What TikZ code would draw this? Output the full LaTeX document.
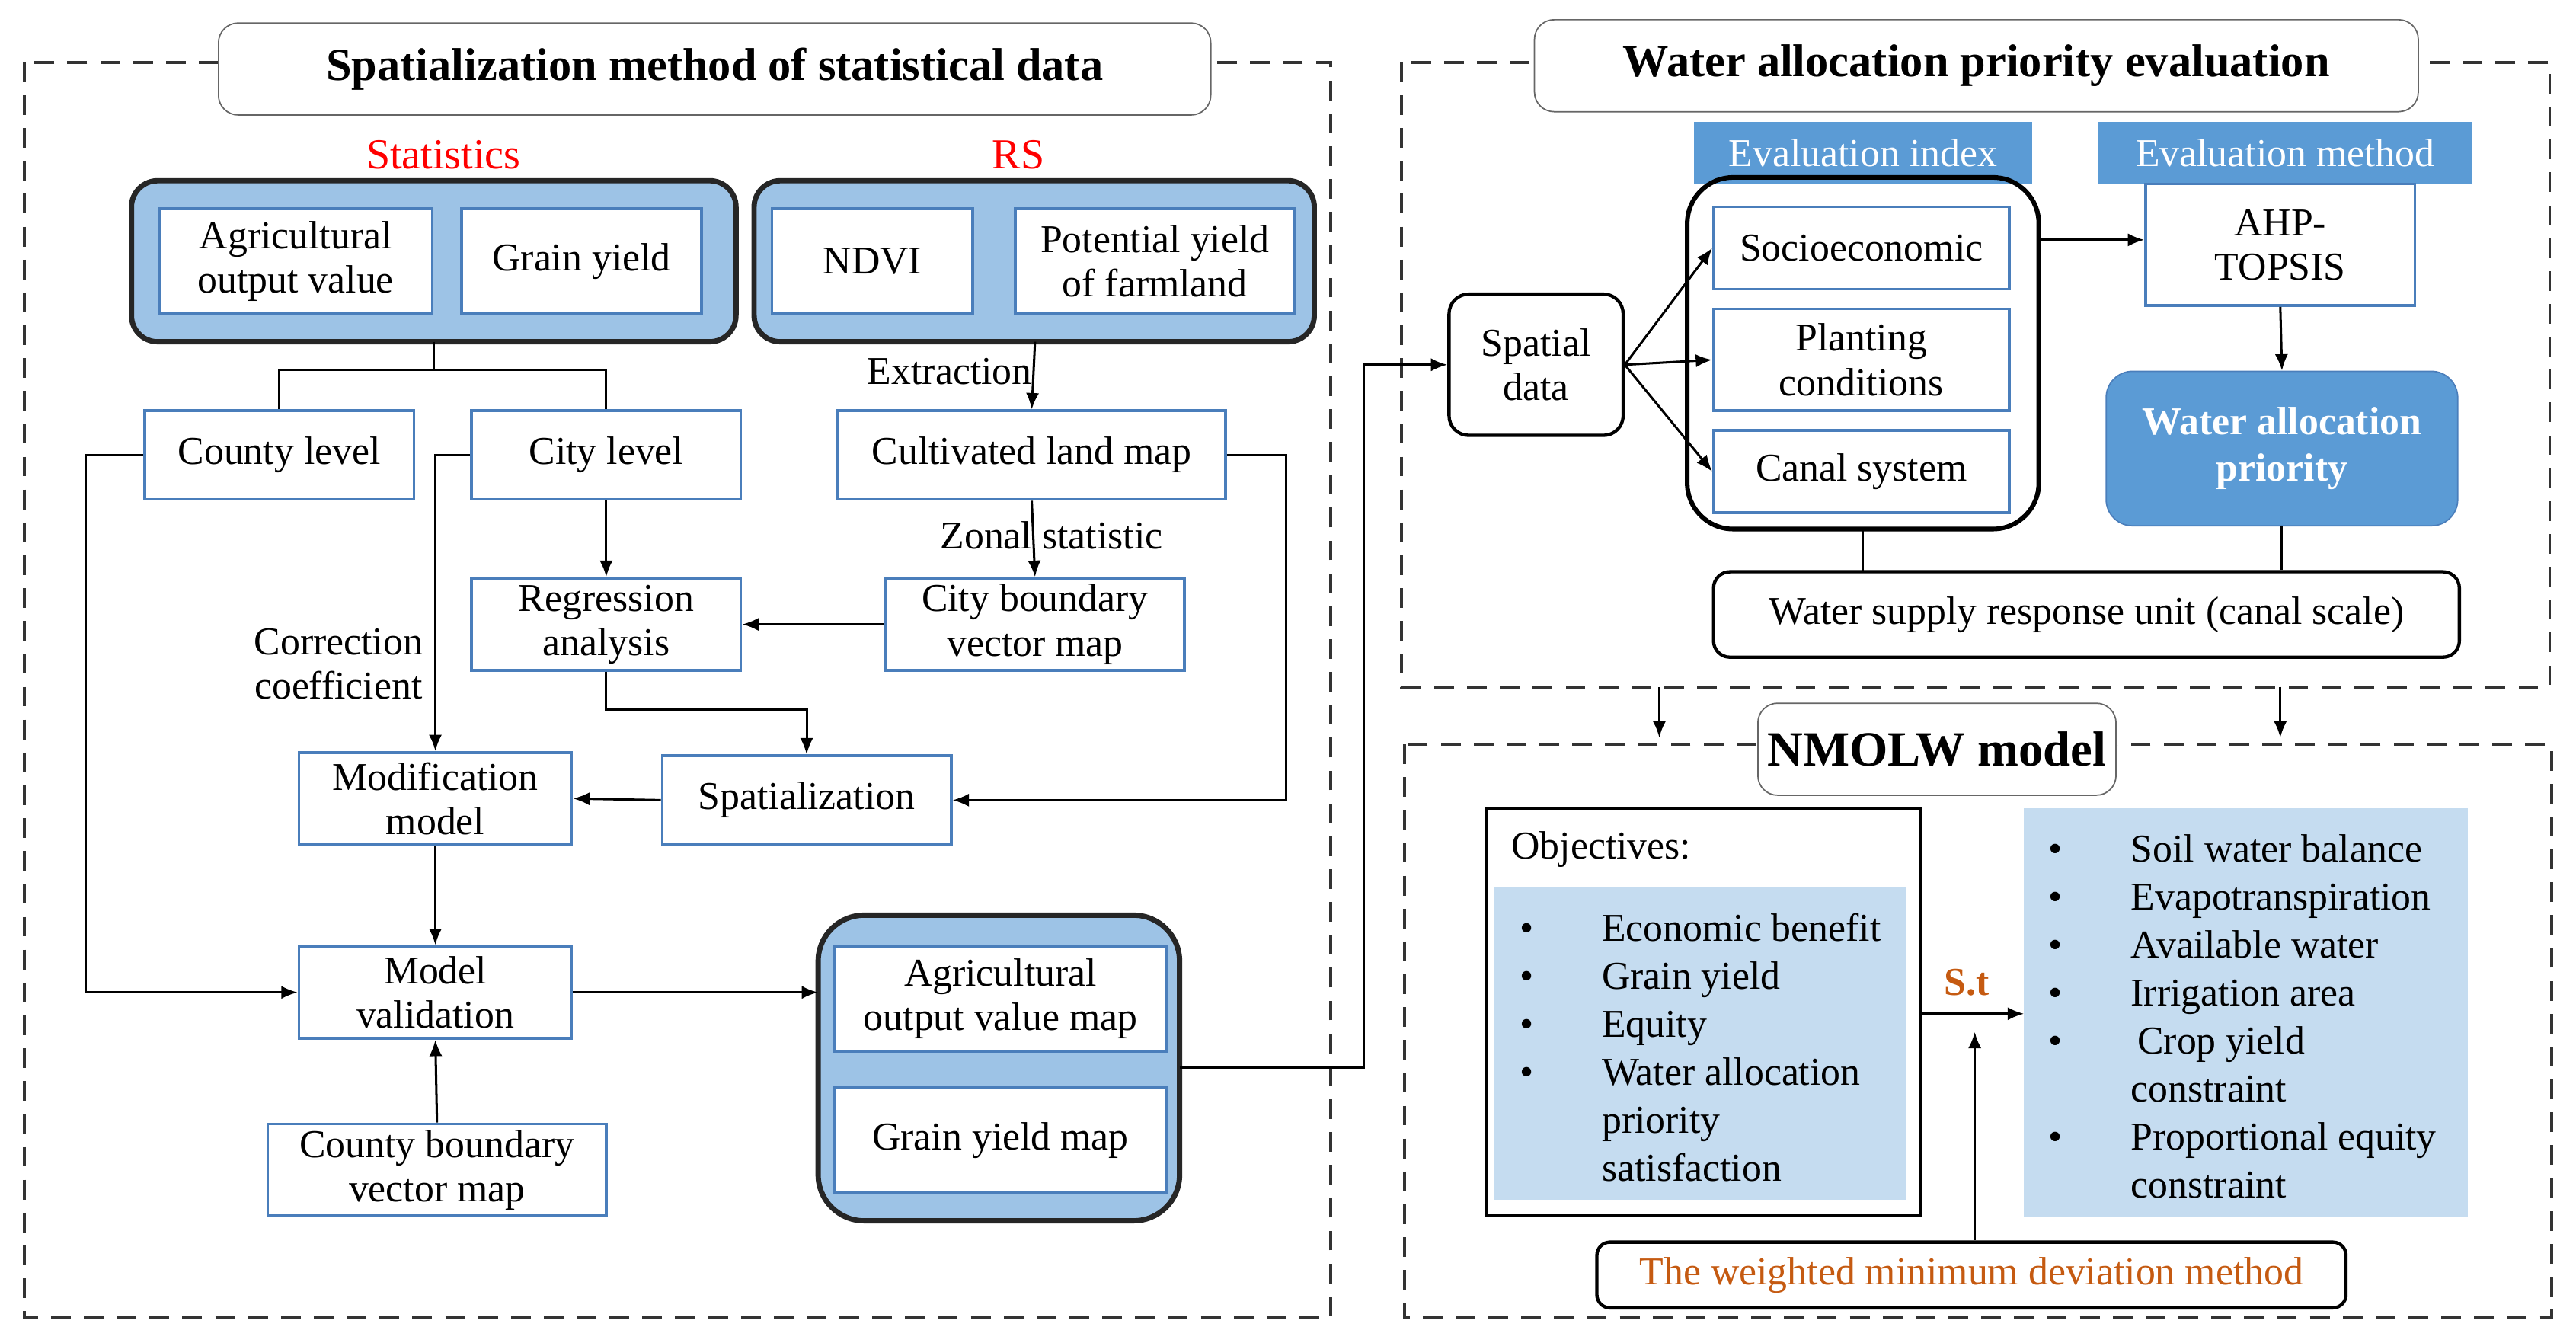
\documentclass[tikz,border=0pt]{standalone}
\usepackage{fontspec}
\setmainfont{Liberation Serif}
\usetikzlibrary{arrows.meta}
\definecolor{grpblue}{HTML}{9DC3E6}
\definecolor{bord}{HTML}{4A7EBB}
\definecolor{hdr}{HTML}{5B9BD5}
\definecolor{pale}{HTML}{C5DCF0}
\definecolor{orn}{HTML}{C55A11}
\begin{document}
\begin{tikzpicture}[x=0.5pt,y=-0.5pt,
 every node/.style={font=\fontsize{12}{13.5}\selectfont},
 bx/.style={draw=bord,line width=0.8pt,fill=white,align=center,inner sep=0pt},
 grp/.style={draw=black!85,line width=1.6pt,fill=grpblue,rounded corners=8pt},
 dashbox/.style={draw=black!80,line width=0.9pt,dash pattern=on 6pt off 4pt},
 ttl/.style={draw=black!60,fill=white,rounded corners=6pt,font=\fontsize{14}{16}\selectfont\bfseries,inner sep=0pt},
 ln/.style={line width=0.7pt},
 ar/.style={ln,-{Latex[length=5pt,width=4pt]}}]
\useasboundingbox (0,0) rectangle (1568,817);
% --- left panel
\draw[dashbox] (15,38) rectangle (810,802);
\node[ttl,minimum width=302pt,minimum height=28pt] (t1) at (435,42) {Spatialization method of statistical data};
\node[text=red,font=\fontsize{13}{15}\selectfont] (lst) at (270,94) {Statistics};
\node[text=red,font=\fontsize{13}{15}\selectfont] (lrs) at (620,94) {RS};
\path[grp] (80,110) rectangle (448,208); \coordinate (sg) at (264,208);
\path[grp] (459,110) rectangle (800,208); \coordinate (rg) at (630,208);
\node[bx,minimum width=83pt,minimum height=32pt] (aov) at (180,159) {Agricultural\\output value};
\node[bx,minimum width=73pt,minimum height=32pt] (gy) at (354,159) {Grain yield};
\node[bx,minimum width=61pt,minimum height=32pt] (ndvi) at (531,159) {NDVI};
\node[bx,minimum width=85pt,minimum height=32pt] (pyf) at (703,159) {Potential yield\\of farmland};
\node[bx,minimum width=82pt,minimum height=27pt] (cty) at (170,277) {County level};
\node[bx,minimum width=82pt,minimum height=27pt] (city) at (369,277) {City level};
\node[bx,minimum width=118pt,minimum height=27pt] (clm) at (628,277) {Cultivated land map};
\node[bx,minimum width=91pt,minimum height=28pt] (cbv) at (630,380) {City boundary\\vector map};
\node[bx,minimum width=82pt,minimum height=28pt] (reg) at (369,380) {Regression\\analysis};
\node[bx,minimum width=88pt,minimum height=27pt] (spa) at (491,487) {Spatialization};
\node[bx,minimum width=83pt,minimum height=28pt] (mod) at (265,486) {Modification\\model};
\node[bx,minimum width=83pt,minimum height=28pt] (val) at (265,604) {Model\\validation};
\node[bx,minimum width=103pt,minimum height=28pt] (cbm) at (266,712) {County boundary\\vector map};
\path[grp,rounded corners=14pt] (498,557) rectangle (718,743);
\coordinate (og) at (718,650);
\node[bx,minimum width=101pt,minimum height=32pt] (aovm) at (609,608) {Agricultural\\output value map};
\node[bx,minimum width=101pt,minimum height=32pt] (gym) at (609,694) {Grain yield map};
\node (lext) at (578,226) {Extraction};
\node (lzon) at (640,326) {Zonal statistic};
\node[align=center] (lcor) at (206,404) {Correction\\coefficient};
\draw[ln] (sg) -- (264,225) -| (cty.north);
\draw[ln] (264,225) -| (city.north);
\draw[ar] (rg) -- (clm.north);
\draw[ar] (clm.south) -- (cbv.north);
\draw[ar] (city.south) -- (reg.north);
\draw[ar] (cbv.west) -- (reg.east);
\draw[ar] (reg.south) -- (369,432) -| (spa.north);
\draw[ar] (clm.east) -- (783,277) |- (spa.east);
\draw[ar] (spa.west) -- (mod.east);
\draw[ar] (city.west) -- (265,277) -- (mod.north);
\draw[ar] (mod.south) -- (val.north);
\draw[ar] (cty.west) -- (52,277) |- (val.west);
\draw[ar] (cbm.north) -- (val.south);
\draw[ar] (val.east) -- (498,604);
% --- top right
\draw[dashbox] (853,38) rectangle (1552,418);
\node[ttl,minimum width=269pt,minimum height=28pt] (t2) at (1203,40) {Water allocation priority evaluation};
\node[draw=black,line width=1pt,rounded corners=6pt,fill=white,minimum width=53pt,minimum height=43pt,align=center,inner sep=0pt] (sd) at (935,222) {Spatial\\data};
\node[fill=hdr,text=white,minimum width=103pt,minimum height=19pt,inner sep=0pt] (ei) at (1134,93) {Evaluation index};
\node[fill=hdr,text=white,minimum width=114pt,minimum height=19pt,inner sep=0pt] (em) at (1391,93) {Evaluation method};
\draw[line width=1.4pt,rounded corners=14pt] (1027,108) rectangle (1241,322);
\coordinate (cr) at (1241,146); \coordinate (cb) at (1134,322);
\node[bx,minimum width=90pt,minimum height=25pt] (soc) at (1133,151) {Socioeconomic};
\node[bx,minimum width=90pt,minimum height=31pt] (pla) at (1133,219) {Planting\\conditions};
\node[bx,minimum width=90pt,minimum height=25pt] (can) at (1133,287) {Canal system};
\node[bx,minimum width=82pt,minimum height=37pt] (ahp) at (1388,149) {AHP-\\TOPSIS};
\node[draw=bord,fill=hdr,rounded corners=8pt,text=white,font=\fontsize{12}{14}\selectfont\bfseries,align=center,minimum width=107pt,minimum height=47pt,inner sep=0pt] (wap) at (1389,273) {Water allocation\\priority};
\node[draw=black,line width=1pt,rounded corners=5pt,minimum width=227pt,minimum height=26pt,inner sep=0pt] (wsr) at (1270,374) {Water supply response unit (canal scale)};
\draw[ar] (sd.east) -- (soc.west);
\draw[ar] (sd.east) -- (pla.west);
\draw[ar] (sd.east) -- (can.west);
\draw[ar] (cr) -- (ahp.west |- cr);
\draw[ar] (ahp.south) -- (wap.north);
\draw[ln] (cb) -- (1134,348);
\draw[ln] (wap.south) -- (wsr.north -| wap.south);
\draw[ar] (og) -- (830,650) |- (sd.west);
\draw[ar] (1010,418) -- (1010,449);
\draw[ar] (1388,418) -- (1388,449);
% --- bottom right
\draw[dashbox] (855,453) rectangle (1553,802);
\node[ttl,font=\fontsize{15}{17}\selectfont\bfseries,minimum width=109pt,minimum height=28pt] (t3) at (1179,456) {NMOLW model};
\node[draw=black,line width=1pt,minimum width=132pt,minimum height=124pt,inner sep=0pt] (obj) at (1037,616) {};
\node[anchor=west] (objl) at (913,517) {Objectives:};
\fill[pale] (909,540) rectangle (1160,730);
\node[anchor=north west,align=left,font=\fontsize{12}{14.6}\selectfont] (objt) at (918,549) {%
\makebox[25pt][l]{•}Economic benefit\\\makebox[25pt][l]{•}Grain yield\\\makebox[25pt][l]{•}Equity\\\makebox[25pt][l]{•}Water allocation\\\makebox[25pt][l]{}priority\\\makebox[25pt][l]{}satisfaction};
\fill[pale] (1232,492) rectangle (1502,741);
\node[anchor=north west,align=left,font=\fontsize{12}{14.6}\selectfont] (cons) at (1240,501) {%
\makebox[25pt][l]{•}Soil water balance\\\makebox[25pt][l]{•}Evapotranspiration\\\makebox[25pt][l]{•}Available water\\\makebox[25pt][l]{•}Irrigation area\\\makebox[25pt][l]{•}\,Crop yield\\\makebox[25pt][l]{}constraint\\\makebox[25pt][l]{•}Proportional equity\\\makebox[25pt][l]{}constraint};
\coordinate (cl) at (1232,617);
\draw[ar] (obj.east |- cl) -- (cl);
\node[text=orn,font=\fontsize{12}{14}\selectfont\bfseries] (st) at (1197,598) {S.t};
\node[draw=black,line width=1pt,rounded corners=4pt,text=orn,minimum width=228pt,minimum height=20pt,inner sep=0pt] (wmd) at (1200,776) {The weighted minimum deviation method};
\draw[ar] (wmd.north -| 1202,0) -- (1202,628);
\end{tikzpicture}
\end{document}
